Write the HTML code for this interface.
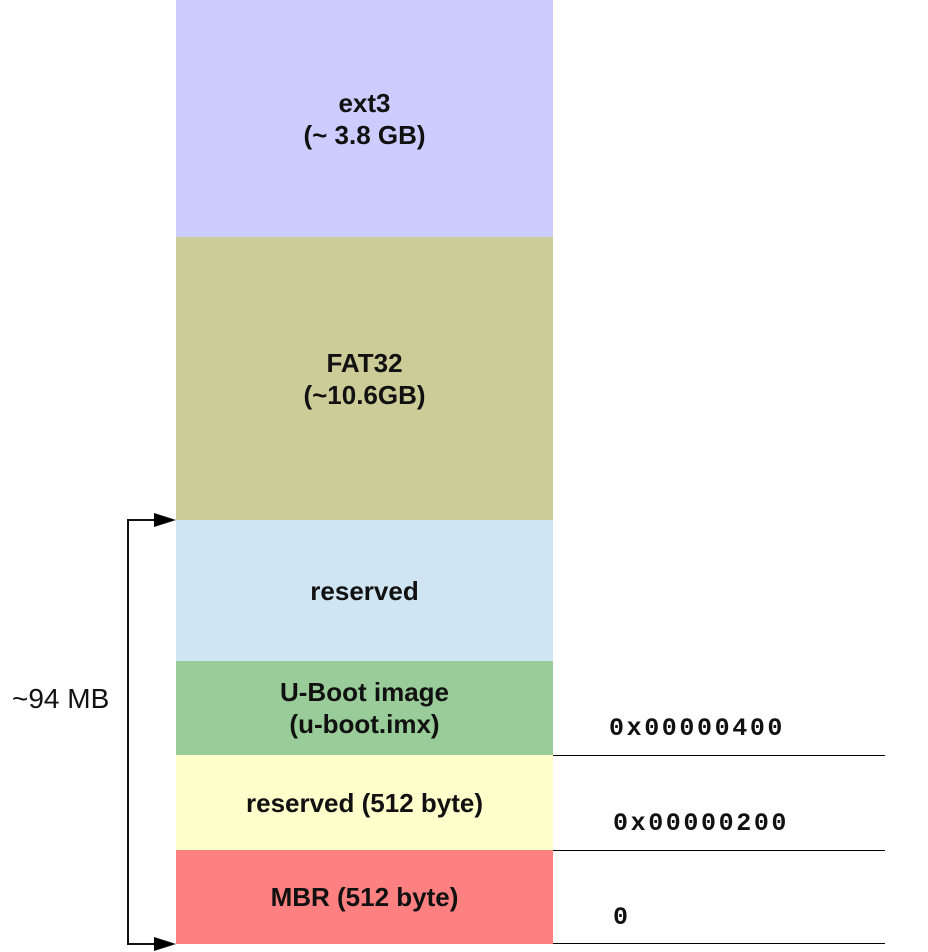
<!DOCTYPE html>
<html><head><style>
body{margin:0;width:928px;height:952px;background:#fff;position:relative;overflow:hidden;font-family:"Liberation Sans",sans-serif}
.b{position:absolute;left:176px;width:377px;display:flex;align-items:center;justify-content:center;text-align:center;font-weight:bold;font-size:26px;line-height:32px;color:#111}
.m{position:absolute;font-family:"Liberation Mono",monospace;font-weight:bold;font-size:25px;letter-spacing:2.6px;color:#111}
.l{position:absolute;left:553px;width:332px;height:1px;background:#000}
</style></head><body>
<div class="b" style="top:0;height:237px;background:#ccccff">ext3<br>(~ 3.8 GB)</div>
<div class="b" style="top:237px;height:283px;background:#cccc99">FAT32<br>(~10.6GB)</div>
<div class="b" style="top:520px;height:141px;background:#cfe5f2">reserved</div>
<div class="b" style="top:661px;height:94px;background:#99cc99">U-Boot image<br>(u-boot.imx)</div>
<div class="b" style="top:755px;height:95px;background:#ffffcc">reserved (512 byte)</div>
<div class="b" style="top:850px;height:94px;background:#ff8080">MBR (512 byte)</div>
<div class="l" style="top:755px"></div>
<div class="l" style="top:850px"></div>
<div class="l" style="top:943px"></div>
<div class="m" style="left:609px;top:714px">0x00000400</div>
<div class="m" style="left:613px;top:809px">0x00000200</div>
<div class="m" style="left:613px;top:903px">0</div>
<div style="position:absolute;left:12px;top:683px;font-size:28px;color:#111">~94 MB</div>
<svg style="position:absolute;left:0;top:0" width="928" height="952">
<polyline points="157,520 128,520 128,944 157,944" fill="none" stroke="#111" stroke-width="2"/>
<polygon points="154,513 176,520 154,527" fill="#000"/>
<polygon points="154,937 176,944 154,951" fill="#000"/>
</svg>
</body></html>
